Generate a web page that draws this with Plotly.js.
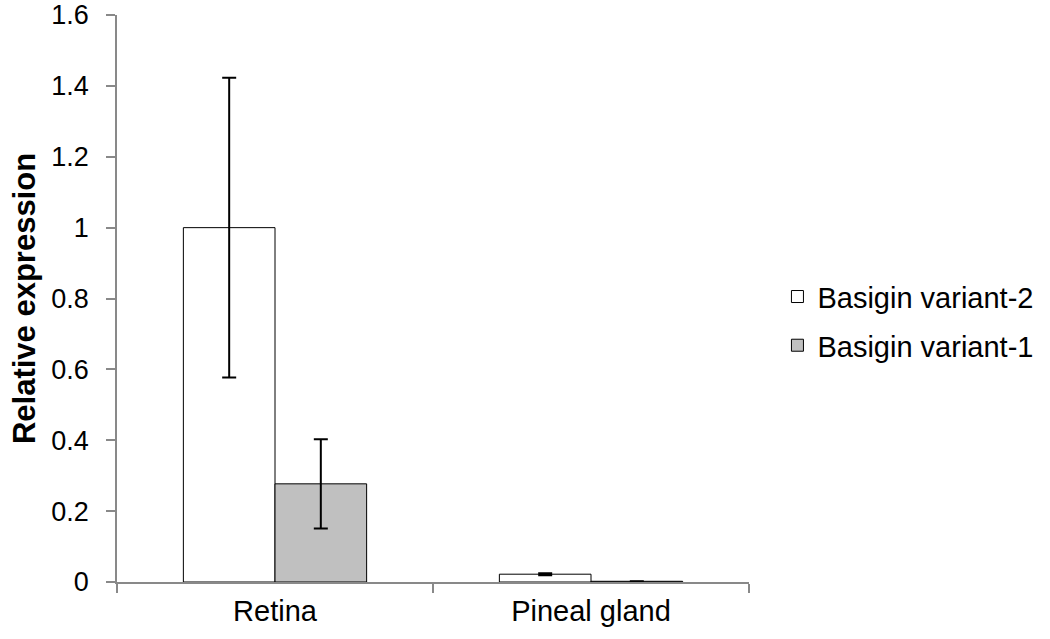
<!DOCTYPE html>
<html>
<head>
<meta charset="utf-8">
<script src="https://cdn.plot.ly/plotly-3.0.1.min.js"></script>
<style>
  html, body { margin: 0; padding: 0; background: #fff; }
  #chart { width: 1050px; height: 639px; }
</style>
</head>
<body>
<div id="chart"></div>
<script>
var tissues = ['Retina', 'Pineal gland'];
var variant2 = [1.0, 0.022];
var variant2Err = [0.423, 0.003];
var variant1 = [0.277, 0.002];
var variant1Err = [0.126, 0.0];
var yTicks = [0, 0.2, 0.4, 0.6, 0.8, 1, 1.2, 1.4, 1.6];

var trace1 = {
  type: 'bar',
  name: 'Basigin variant-2',
  legendgroup: 'v2',
  x: tissues,
  y: variant2,
  marker: { color: '#ffffff', line: { color: '#000000', width: 1 } },
  error_y: { type: 'data', array: variant2Err, visible: true, color: '#000000', thickness: 2, width: 7 }
};

var trace2 = {
  type: 'bar',
  name: 'Basigin variant-1',
  legendgroup: 'v1',
  x: tissues,
  y: variant1,
  marker: { color: '#c0c0c0', line: { color: '#000000', width: 1 } },
  error_y: { type: 'data', array: variant1Err, visible: true, color: '#000000', thickness: 2, width: 7 }
};

var layout = {
  width: 1050,
  height: 639,
  margin: { l: 117, r: 298, t: 15, b: 57 },
  paper_bgcolor: '#ffffff',
  plot_bgcolor: '#ffffff',
  font: { family: 'Liberation Sans, Arial, sans-serif', size: 28, color: '#000000' },
  barmode: 'group',
  bargap: 0.42,
  bargroupgap: 0,
  xaxis: {
    showline: true,
    linecolor: '#898989',
    linewidth: 1.5,
    ticks: 'outside',
    tickson: 'boundaries',
    ticklen: 9,
    tickcolor: '#898989',
    tickwidth: 1.5,
    showgrid: false,
    zeroline: false,
    tickfont: { size: 29 },
    ticklabelstandoff: 2
  },
  yaxis: {
    range: [0, 1.6001],
    tickvals: yTicks,
    ticktext: yTicks.map(function (v) { return String(v); }),
    showline: true,
    linecolor: '#898989',
    linewidth: 1.5,
    ticks: 'outside',
    ticklen: 9,
    tickcolor: '#898989',
    tickwidth: 1.5,
    showgrid: false,
    zeroline: false,
    tickfont: { size: 27 },
    ticklabelstandoff: 12,
    ticklabeloverflow: 'allow',
    title: { text: '<b>Relative expression</b>', font: { size: 31 }, standoff: 6 }
  },
  showlegend: true,
  legend: {
    x: 1.045,
    y: 0.46,
    yanchor: 'middle',
    xanchor: 'left',
    font: { size: 29 },
    tracegroupgap: 8,
    traceorder: 'grouped'
  }
};

Plotly.newPlot('chart', [trace1, trace2], layout, { displayModeBar: false });
</script>
</body>
</html>
